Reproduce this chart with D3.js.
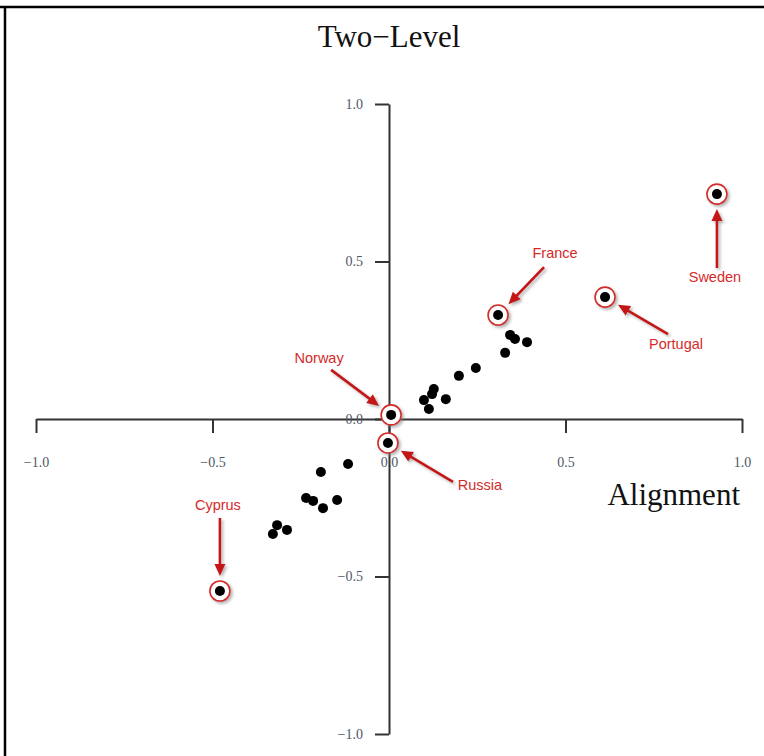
<!DOCTYPE html>
<html>
<head>
<meta charset="utf-8">
<script src="https://cdn.jsdelivr.net/npm/d3@7"></script>
<style>
  html, body { margin: 0; padding: 0; background: #fff; }
  svg { display: block; }
</style>
</head>
<body>
<svg id="chart" width="764" height="756"></svg>
<script>
// Country scores on the two dimensions
const plainAlignment = [0.343, 0.357, 0.391, 0.329, 0.246, 0.198, 0.127, 0.122, 0.099, 0.161, 0.113,
                        -0.116, -0.193, -0.235, -0.215, -0.187, -0.147, -0.317, -0.329, -0.289];
const plainTwoLevel  = [0.267, 0.254, 0.244, 0.210, 0.162, 0.137, 0.095, 0.079, 0.060, 0.063, 0.032,
                        -0.143, -0.168, -0.251, -0.260, -0.283, -0.257, -0.337, -0.365, -0.352];

// Named countries
const namedCountries = ["Sweden", "Portugal", "France", "Norway", "Russia", "Cyprus"];
const namedAlignment = [0.929, 0.612, 0.309, 0.006, -0.003, -0.479];
const namedTwoLevel  = [0.714, 0.387, 0.330, 0.013, -0.076, -0.546];

const tickValues = [-1.0, -0.5, 0.0, 0.5, 1.0];
const xTitle = "Alignment";
const yTitle = "Two\u2212Level";

// Callout placement in pixels, relative to the marked point
const calloutLayout = {
  Sweden:   { tail: [0, 74],    label: [-2, 88] },
  Portugal: { tail: [63, 37],   label: [71, 52] },
  France:   { tail: [46, -48],  label: [57, -57] },
  Norway:   { tail: [-60, -45], label: [-72, -52] },
  Russia:   { tail: [65, 39],   label: [92, 47] },
  Cyprus:   { tail: [0, -73],   label: [-2, -81] }
};

const svg = d3.select("#chart");

// Frame lines (top and left)
svg.append("line").attr("x1", 0).attr("x2", 764).attr("y1", 7).attr("y2", 7)
  .attr("stroke", "#000").attr("stroke-width", 2.5);
svg.append("line").attr("x1", 5).attr("x2", 5).attr("y1", 6).attr("y2", 756)
  .attr("stroke", "#000").attr("stroke-width", 2.5);

// Shadow filter
const defs = svg.append("defs");
const f = defs.append("filter").attr("id", "shadow")
  .attr("x", "-50%").attr("y", "-50%").attr("width", "200%").attr("height", "200%");
f.append("feDropShadow").attr("dx", 2).attr("dy", 2).attr("stdDeviation", 1.6)
  .attr("flood-color", "#777").attr("flood-opacity", 0.55);

const x = d3.scaleLinear().domain([-1, 1]).range([36, 742]);
const y = d3.scaleLinear().domain([-1, 1]).range([734, 104]);

const fmt = d3.format(".1f");
const tickFont = "'Liberation Serif', 'Times New Roman', serif";

// X axis through y = 0
const gx = svg.append("g").attr("transform", `translate(0,${y(0)})`)
  .call(d3.axisBottom(x).tickValues(tickValues).tickFormat(fmt)
    .tickSize(14).tickSizeOuter(0).tickPadding(24));

// Y axis through x = 0
const gy = svg.append("g").attr("transform", `translate(${x(0)},0)`)
  .call(d3.axisLeft(y).tickValues(tickValues).tickFormat(fmt)
    .tickSize(14).tickSizeOuter(0).tickPadding(12));

[gx, gy].forEach(g => {
  g.select(".domain").attr("stroke", "#333").attr("stroke-width", 2);
  g.selectAll(".tick line").attr("stroke", "#333").attr("stroke-width", 2);
  g.selectAll(".tick text").attr("fill", "#4e5866")
    .style("font-family", tickFont).style("font-size", "14px");
});

// Axis titles
svg.append("text").attr("x", x(0)).attr("y", 47).attr("text-anchor", "middle")
  .style("font-family", tickFont).style("font-size", "31px").attr("fill", "#111")
  .text(yTitle);
svg.append("text").attr("x", 740).attr("y", 505).attr("text-anchor", "end")
  .style("font-family", tickFont).style("font-size", "31px").attr("fill", "#111")
  .text(xTitle);

// Plain points
svg.append("g").selectAll("circle")
  .data(d3.range(plainAlignment.length))
  .join("circle")
  .attr("cx", i => x(plainAlignment[i]))
  .attr("cy", i => y(plainTwoLevel[i]))
  .attr("r", 5)
  .attr("fill", "#000");

// Named points: ring + dot
const named = namedCountries.map((name, i) => ({
  name, px: x(namedAlignment[i]), py: y(namedTwoLevel[i]), lay: calloutLayout[name]
}));

const rings = svg.append("g");
rings.selectAll("circle.ring").data(named).join("circle")
  .attr("class", "ring")
  .attr("cx", d => d.px).attr("cy", d => d.py).attr("r", 10)
  .attr("fill", "#fff").attr("stroke", "#d42a2a").attr("stroke-width", 1.6)
  .attr("filter", "url(#shadow)");
rings.selectAll("circle.dot").data(named).join("circle")
  .attr("class", "dot")
  .attr("cx", d => d.px).attr("cy", d => d.py).attr("r", 5)
  .attr("fill", "#000");

// Arrows
const arrowColor = "#c41414";
const gap = 15, headLen = 12, headHalf = 5.5;
const arrows = svg.append("g").attr("filter", "url(#shadow)");
named.forEach(d => {
  const tx = d.px + d.lay.tail[0], ty = d.py + d.lay.tail[1];
  const dx = d.px - tx, dy = d.py - ty;
  const len = Math.hypot(dx, dy);
  const ux = dx / len, uy = dy / len;
  const tipX = d.px - ux * gap, tipY = d.py - uy * gap;
  const baseX = tipX - ux * headLen, baseY = tipY - uy * headLen;
  arrows.append("line")
    .attr("x1", tx).attr("y1", ty).attr("x2", baseX + ux * 2).attr("y2", baseY + uy * 2)
    .attr("stroke", arrowColor).attr("stroke-width", 2.6);
  arrows.append("path")
    .attr("d", `M${tipX},${tipY}L${baseX - uy * headHalf},${baseY + ux * headHalf}L${baseX + uy * headHalf},${baseY - ux * headHalf}Z`)
    .attr("fill", arrowColor);
});

// Callout labels
svg.append("g").selectAll("text").data(named).join("text")
  .attr("x", d => d.px + d.lay.label[0])
  .attr("y", d => d.py + d.lay.label[1])
  .attr("text-anchor", "middle")
  .style("font-family", "'Liberation Sans', Arial, sans-serif")
  .style("font-size", "14.5px")
  .attr("fill", "#d42a2a")
  .text(d => d.name);
</script>
</body>
</html>
